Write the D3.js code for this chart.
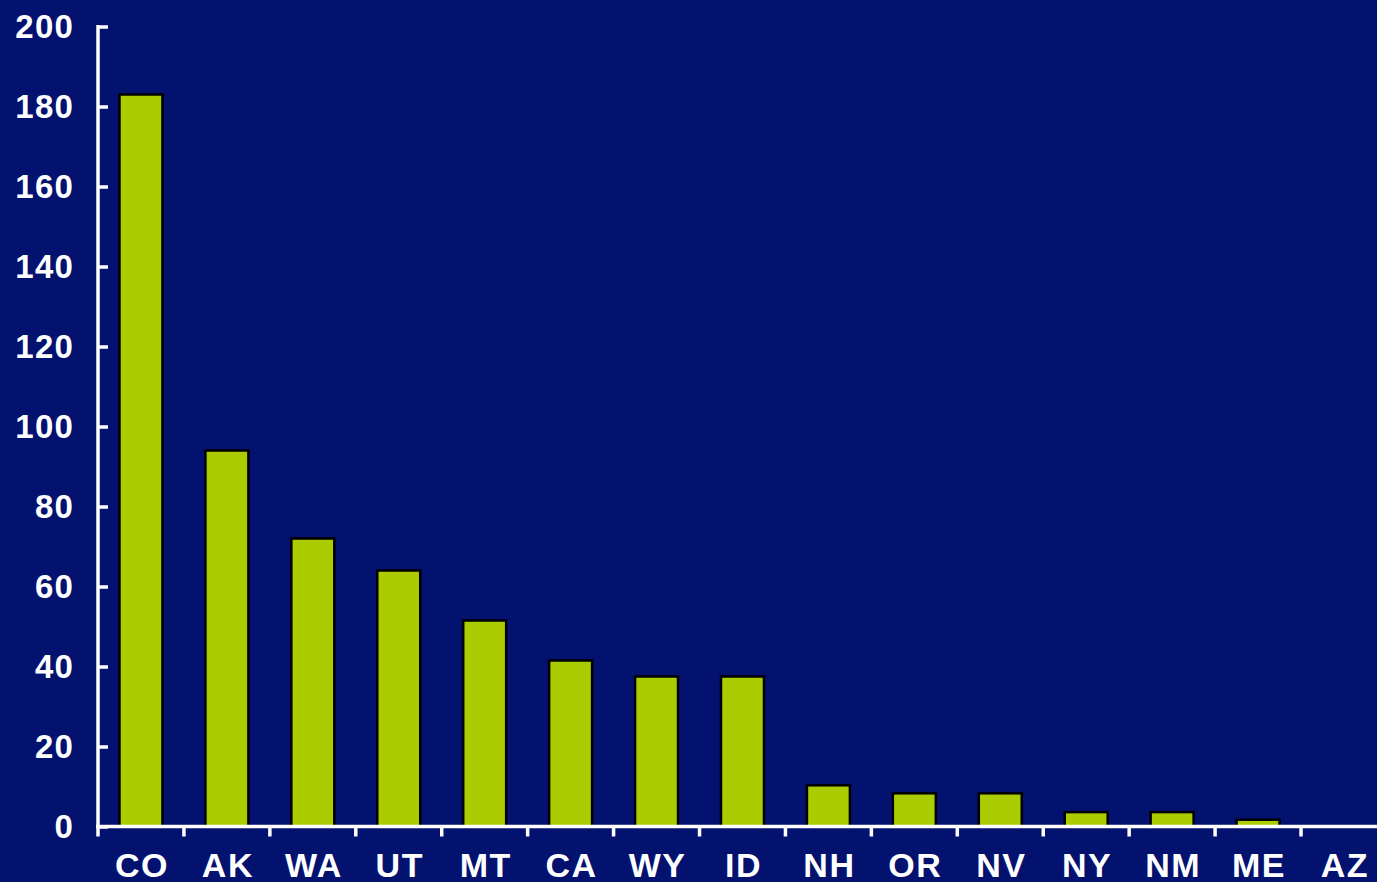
<!DOCTYPE html>
<html>
<head>
<meta charset="utf-8">
<script src="https://cdn.jsdelivr.net/npm/d3@7"></script>
<style>
  html, body { margin: 0; padding: 0; background: #03116F; }
  svg { display: block; }
  text { font-family: "Liberation Sans", Arial, Helvetica, sans-serif; font-weight: bold; fill: #ffffff; }
</style>
</head>
<body>
<svg id="chart" width="1377" height="882"></svg>
<script>
// States and their counts
const states = ["CO", "AK", "WA", "UT", "MT", "CA", "WY", "ID", "NH", "OR", "NV", "NY", "NM", "ME", "AZ"];
const counts = [183, 94, 72, 64, 51.5, 41.5, 37.5, 37.5, 10.3, 8.3, 8.3, 3.6, 3.6, 1.7, 0];
const yTicks = [0, 20, 40, 60, 80, 100, 120, 140, 160, 180, 200];

const svg = d3.select("#chart");
const W = 1377, H = 882;

const plotLeft = 98, plotTop = 26.5, plotBottom = 826.5;
const step = 85.93;

const x = d3.scaleBand()
  .domain(states)
  .range([plotLeft, plotLeft + step * states.length])
  .paddingInner(0.5)
  .paddingOuter(0.25);

const y = d3.scaleLinear().domain([0, 200]).range([plotBottom, plotTop]);

svg.append("rect").attr("width", W).attr("height", H).attr("fill", "#03116F");

// Bars
svg.append("g")
  .selectAll("rect")
  .data(states.map((s, i) => ({ s, v: counts[i] })))
  .join("rect")
  .attr("x", d => x(d.s))
  .attr("y", d => y(d.v))
  .attr("width", x.bandwidth())
  .attr("height", d => y(0) - y(d.v))
  .attr("fill", "#AACC00")
  .attr("stroke", "#000000")
  .attr("stroke-width", 2.5);

// Y axis: ticks pointing into the plot
const yAxis = d3.axisLeft(y)
  .tickValues(yTicks)
  .tickSizeInner(-10)
  .tickSizeOuter(0)
  .tickPadding(24);

const gy = svg.append("g").attr("transform", `translate(${plotLeft},0)`).call(yAxis);
gy.select(".domain").remove();
gy.selectAll(".tick line").attr("stroke", "#ffffff").attr("stroke-width", 3.5);
gy.selectAll(".tick text")
  .attr("fill", "#ffffff")
  .style("font-size", "33px")
  .style("letter-spacing", "1.2px");

svg.append("line")
  .attr("x1", plotLeft).attr("x2", plotLeft)
  .attr("y1", plotTop - 1.5).attr("y2", plotBottom + 10)
  .attr("stroke", "#ffffff").attr("stroke-width", 3.5);

// X axis with ticks between categories
svg.append("line")
  .attr("x1", plotLeft - 2).attr("x2", W)
  .attr("y1", plotBottom).attr("y2", plotBottom)
  .attr("stroke", "#ffffff").attr("stroke-width", 3.5);

const gx = svg.append("g");
gx.selectAll("line")
  .data(d3.range(1, states.length + 1))
  .join("line")
  .attr("x1", i => plotLeft + i * x.step())
  .attr("x2", i => plotLeft + i * x.step())
  .attr("y1", plotBottom)
  .attr("y2", plotBottom + 10)
  .attr("stroke", "#ffffff").attr("stroke-width", 3.5);

gx.selectAll("text")
  .data(states)
  .join("text")
  .attr("x", d => x(d) + x.bandwidth() / 2 + 1)
  .attr("y", 877)
  .attr("text-anchor", "middle")
  .style("font-size", "34px")
  .style("letter-spacing", "1.5px")
  .text(d => d);
</script>
</body>
</html>
